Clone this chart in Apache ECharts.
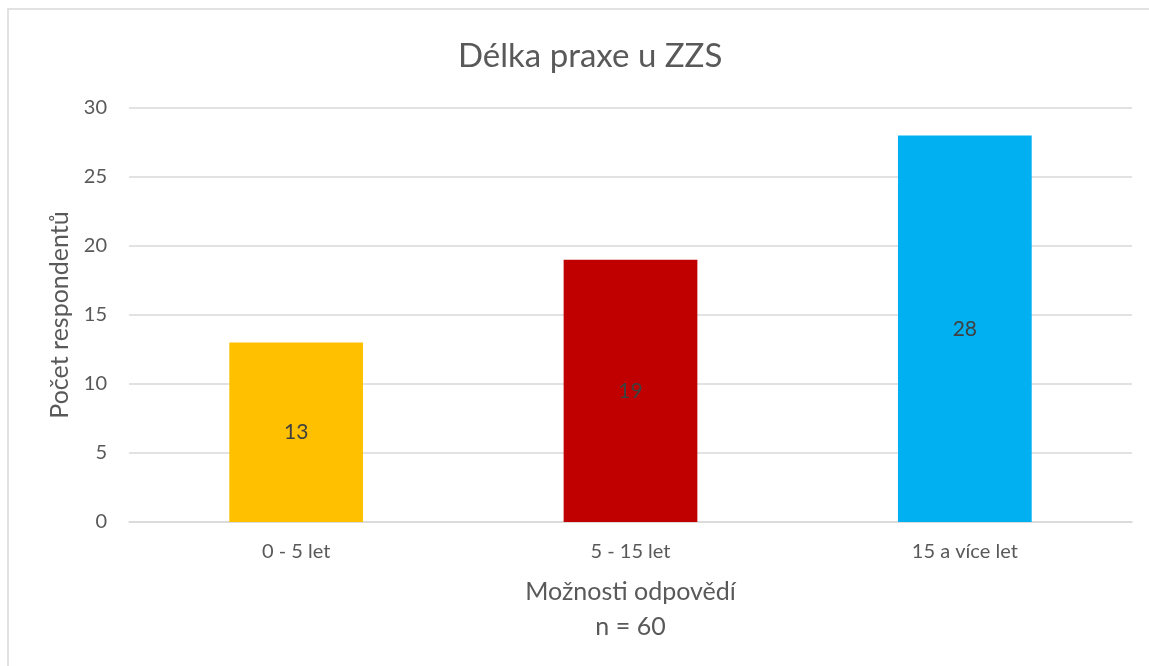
<!DOCTYPE html>
<html><head><meta charset="utf-8">
<script src="https://cdn.jsdelivr.net/npm/echarts@6/dist/echarts.min.js"></script>
<style>html,body{margin:0;padding:0;background:#fff}#c{width:1149px;height:666px}</style>
</head><body><div id="c"></div>
<script>
const categories = ['0 - 5 let', '5 - 15 let', '15 a více let'];
const values = [13, 19, 28];
const colors = ['#FFC000', '#C00000', '#00B0F0'];
const titleText = 'Délka praxe u ZZS';
const yName = 'Počet respondentů';
const xName = 'Možnosti odpovědí\nn = 60';
const FONT = 'Lato, "Open Sans", sans-serif';

const chart = echarts.init(document.getElementById('c'), null, {renderer: 'canvas'});
chart.setOption({
  animation: false,
  textStyle: {fontFamily: FONT},
  title: {text: titleText, left: 453, top: 35, textStyle: {fontFamily: FONT, fontSize: 33, fontWeight: 'normal', color: '#595959'}},
  graphic: [{type: 'rect', shape: {x: 8, y: 9, width: 1300, height: 800}, style: {fill: 'none', stroke: '#d9d9d9', lineWidth: 1.5}, silent: true}],
  grid: {left: 129, right: 17, top: 108, bottom: 144},
  xAxis: {
    type: 'category', data: categories,
    axisLine: {lineStyle: {color: '#d9d9d9', width: 1.5}},
    axisTick: {show: false},
    axisLabel: {color: '#595959', fontSize: 20, margin: 20, fontFamily: FONT},
    name: xName, nameLocation: 'middle', nameGap: 52,
    nameTextStyle: {color: '#595959', fontSize: 25, lineHeight: 35, fontFamily: FONT}
  },
  yAxis: {
    type: 'value', min: 0, max: 30, interval: 5,
    axisLine: {show: false}, axisTick: {show: false},
    splitLine: {lineStyle: {color: '#d9d9d9', width: 1.5}},
    axisLabel: {color: '#595959', fontSize: 20, margin: 22, fontFamily: FONT},
    name: yName, nameLocation: 'middle', nameGap: 54, nameRotate: 90,
    nameTextStyle: {color: '#595959', fontSize: 25, fontFamily: FONT}
  },
  series: [{
    type: 'bar', barWidth: '40%',
    data: values.map((v, i) => ({value: v, itemStyle: {color: colors[i]}})),
    label: {show: true, position: 'inside', color: '#404040', fontSize: 21, fontFamily: FONT}
  }]
});
</script></body></html>
